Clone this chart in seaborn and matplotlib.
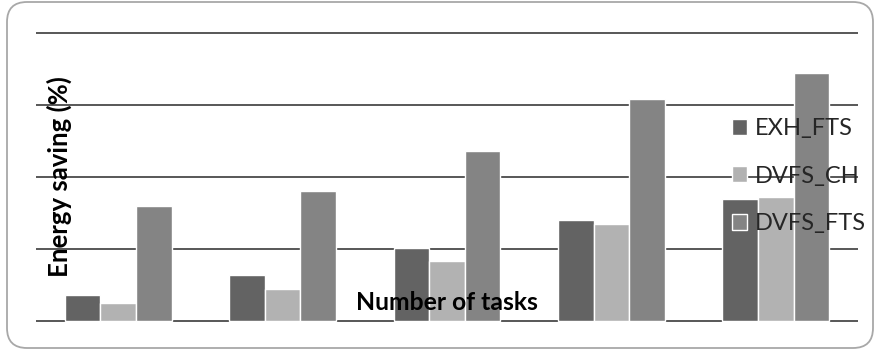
import matplotlib
matplotlib.use("Agg")
import matplotlib.pyplot as plt
from matplotlib.patches import FancyBboxPatch
import seaborn as sns
import pandas as pd

# Energy saving per scheme for each task-count group
task_groups = ["G1", "G2", "G3", "G4", "G5"]
schemes = ["EXH_FTS", "DVFS_CH", "DVFS_FTS"]
exh_fts = [3.6, 6.3, 10.1, 14.0, 16.9]
dvfs_ch = [2.5, 4.4, 8.3, 13.4, 17.2]
dvfs_fts = [15.9, 18.0, 23.6, 30.8, 34.4]
y_ticks = [0, 10, 20, 30, 40]

colors = ["#636363", "#b2b2b2", "#848484"]

df = pd.DataFrame({
    "tasks": task_groups * 3,
    "scheme": [s for s in schemes for _ in task_groups],
    "saving": exh_fts + dvfs_ch + dvfs_fts,
})

sns.set_theme(style="white")
plt.rcParams["font.family"] = ["Lato", "DejaVu Sans"]

W, H = 877, 350
fig = plt.figure(figsize=(W / 100, H / 100), dpi=100)

# plot area: 7.2 px per unit, 0 at y=320.7 px from top
ppu = 7.2
ymin, ymax = -0.5, 40.5
ax_left, ax_right = 36, 858
ax_bottom_px = 320.7 + (0 - ymin) * ppu
ax_h_px = (ymax - ymin) * ppu
ax = fig.add_axes([ax_left / W, (H - ax_bottom_px) / H,
                   (ax_right - ax_left) / W, ax_h_px / H])

sns.barplot(data=df, x="tasks", y="saving", hue="scheme", hue_order=schemes,
            order=task_groups, palette=colors, width=0.65, gap=0,
            edgecolor="white", linewidth=1.0, saturation=1, ax=ax, zorder=3)

ax.set_ylim(ymin, ymax)
ax.set_xlim(-0.5, len(task_groups) - 0.5)
ax.set_yticks(y_ticks)
ax.yaxis.grid(True, color="#4a4a4a", linewidth=1.3, zorder=0)
ax.set_axisbelow(True)
ax.tick_params(axis="both", length=0, labelleft=False, labelbottom=False)
ax.set_xlabel("")
ax.set_ylabel("")
for sp in ax.spines.values():
    sp.set_visible(False)
ax.patch.set_alpha(0)

# axis titles sit inside the plot area, on top of the bars
fig.text(447 / W, 1 - 302 / H, "Number of tasks", fontsize=17.8, fontweight="bold",
         color="black", ha="center", va="center", zorder=20)
fig.text(59 / W, 1 - 177 / H, "Energy saving (%)", fontsize=18.5, fontweight="bold",
         color="black", ha="center", va="center", rotation=90, zorder=20)

handles, labels = ax.get_legend_handles_labels()
leg = ax.legend(handles, labels, loc="center left",
                bbox_to_anchor=(732 / W, 1 - 176 / H),
                bbox_transform=fig.transFigure, frameon=False,
                fontsize=17, handlelength=0.65, handleheight=0.65,
                handletextpad=0.3, labelspacing=1.12, borderpad=0,
                borderaxespad=0)
leg.set_zorder(6)

# rounded outer frame
frame = FancyBboxPatch((7, 2), 866, 346, boxstyle="round,pad=0,rounding_size=20",
                       transform=None, facecolor="none", edgecolor="#a8a8a8",
                       linewidth=1.3, zorder=10)
fig.patches.append(frame)

fig.savefig("out.png", dpi=100)
